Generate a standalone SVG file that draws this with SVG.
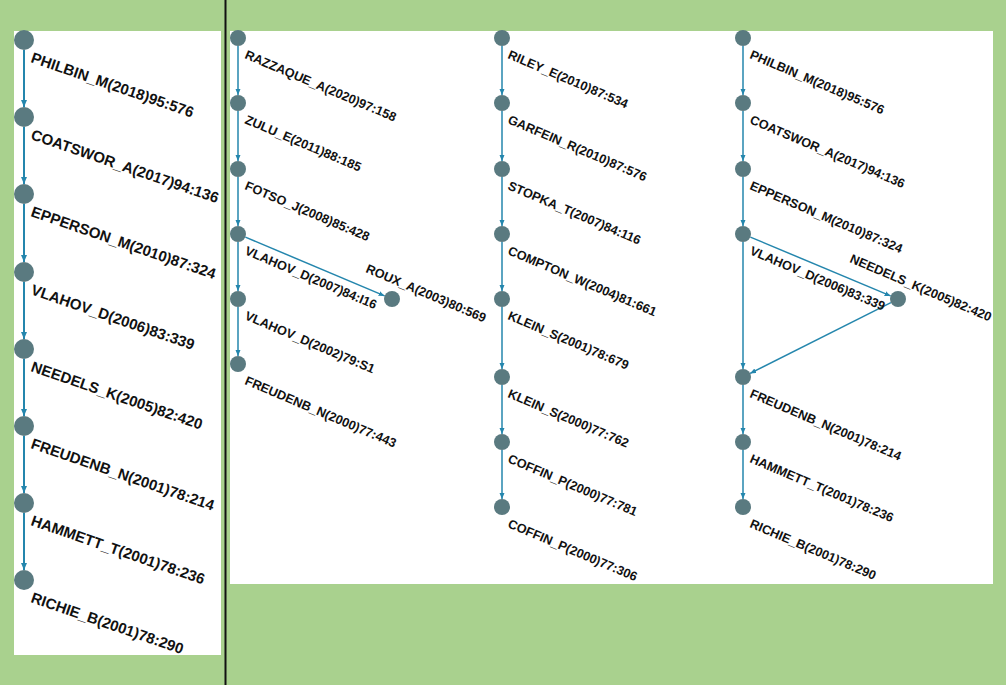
<svg xmlns="http://www.w3.org/2000/svg" width="1006" height="685" viewBox="0 0 1006 685">
<style>
.n{fill:#5a7a80}
.tl{font-family:"Liberation Sans",Arial,sans-serif;font-weight:bold;font-size:15px;fill:#111}
.tr{font-family:"Liberation Sans",Arial,sans-serif;font-weight:bold;font-size:12.7px;fill:#111}
.e1{stroke:#2486ad;stroke-width:2;fill:none;marker-end:url(#a1)}
.e2{stroke:#2486ad;stroke-width:1.5;fill:none;marker-end:url(#a2)}
</style>
<defs>
<marker id="a1" markerUnits="userSpaceOnUse" markerWidth="8" markerHeight="8" refX="7" refY="3" orient="auto"><path d="M0,0 L7,3 L0,6 z" fill="#2486ad"/></marker>
<marker id="a2" markerUnits="userSpaceOnUse" markerWidth="8" markerHeight="8" refX="6" refY="2.5" orient="auto"><path d="M0,0 L6,2.5 L0,5 z" fill="#2486ad"/></marker>
</defs>
<rect x="0" y="0" width="1006" height="685" fill="#a9d18e"/>
<rect x="14" y="31" width="207" height="624" fill="#fff"/>
<rect x="230" y="31" width="763" height="553" fill="#fff"/>
<line x1="225.5" y1="0" x2="225.5" y2="685" stroke="#111" stroke-width="2"/>
<g id="connectors">
<line class="e1" x1="24" y1="50" x2="24" y2="107"/>
<line class="e1" x1="24" y1="127" x2="24" y2="184"/>
<line class="e1" x1="24" y1="204" x2="24" y2="262"/>
<line class="e1" x1="24" y1="282" x2="24" y2="339"/>
<line class="e1" x1="24" y1="359" x2="24" y2="416"/>
<line class="e1" x1="24" y1="436" x2="24" y2="493"/>
<line class="e1" x1="24" y1="513" x2="24" y2="570"/>
<line class="e2" x1="238" y1="46" x2="238" y2="95"/>
<line class="e2" x1="238" y1="111" x2="238" y2="161"/>
<line class="e2" x1="238" y1="177" x2="238" y2="226"/>
<line class="e2" x1="238" y1="242" x2="238" y2="291"/>
<line class="e2" x1="238" y1="307" x2="238" y2="356"/>
<line class="e2" x1="245.4" y1="237.1" x2="384.6" y2="295.9"/>
<line class="e2" x1="502" y1="46" x2="502" y2="95"/>
<line class="e2" x1="502" y1="111" x2="502" y2="161"/>
<line class="e2" x1="502" y1="177" x2="502" y2="226"/>
<line class="e2" x1="502" y1="242" x2="502" y2="291"/>
<line class="e2" x1="502" y1="307" x2="502" y2="369"/>
<line class="e2" x1="502" y1="385" x2="502" y2="434"/>
<line class="e2" x1="502" y1="450" x2="502" y2="499"/>
<line class="e2" x1="743" y1="46" x2="743" y2="95"/>
<line class="e2" x1="743" y1="111" x2="743" y2="161"/>
<line class="e2" x1="743" y1="177" x2="743" y2="226"/>
<line class="e2" x1="750.4" y1="237.1" x2="890.6" y2="295.9"/>
<line class="e2" x1="743" y1="242" x2="743" y2="369"/>
<line class="e2" x1="890.9" y1="302.6" x2="750.1" y2="373.4"/>
<line class="e2" x1="743" y1="385" x2="743" y2="434"/>
<line class="e2" x1="743" y1="450" x2="743" y2="499"/>
</g>
<g id="L1"><circle class="n" cx="24" cy="40" r="10"/><text class="tl" transform="translate(30,62) rotate(19)">PHILBIN_M(2018)95:576</text></g>
<g id="L2"><circle class="n" cx="24" cy="117" r="10"/><text class="tl" transform="translate(30,139) rotate(19)">COATSWOR_A(2017)94:136</text></g>
<g id="L3"><circle class="n" cx="24" cy="194" r="10"/><text class="tl" transform="translate(30,216) rotate(19)">EPPERSON_M(2010)87:324</text></g>
<g id="L4"><circle class="n" cx="24" cy="272" r="10"/><text class="tl" transform="translate(30,294) rotate(19)">VLAHOV_D(2006)83:339</text></g>
<g id="L5"><circle class="n" cx="24" cy="349" r="10"/><text class="tl" transform="translate(30,371) rotate(19)">NEEDELS_K(2005)82:420</text></g>
<g id="L6"><circle class="n" cx="24" cy="426" r="10"/><text class="tl" transform="translate(30,448) rotate(19)">FREUDENB_N(2001)78:214</text></g>
<g id="L7"><circle class="n" cx="24" cy="503" r="10"/><text class="tl" transform="translate(30,525) rotate(19)">HAMMETT_T(2001)78:236</text></g>
<g id="L8"><circle class="n" cx="24" cy="580" r="10"/><text class="tl" transform="translate(30,602) rotate(19)">RICHIE_B(2001)78:290</text></g>
<g id="A1"><circle class="n" cx="238" cy="38" r="8"/><text class="tr" transform="translate(244,58) rotate(23)">RAZZAQUE_A(2020)97:158</text></g>
<g id="A2"><circle class="n" cx="238" cy="103" r="8"/><text class="tr" transform="translate(244,123) rotate(23)">ZULU_E(2011)88:185</text></g>
<g id="A3"><circle class="n" cx="238" cy="169" r="8"/><text class="tr" transform="translate(244,189) rotate(23)">FOTSO_J(2008)85:428</text></g>
<g id="A4"><circle class="n" cx="238" cy="234" r="8"/><text class="tr" transform="translate(244,254) rotate(23)">VLAHOV_D(2007)84:I16</text></g>
<g id="A5"><circle class="n" cx="238" cy="299" r="8"/><text class="tr" transform="translate(244,319) rotate(23)">VLAHOV_D(2002)79:S1</text></g>
<g id="A6"><circle class="n" cx="238" cy="364" r="8"/><text class="tr" transform="translate(244,384) rotate(23)">FREUDENB_N(2000)77:443</text></g>
<g id="A7"><circle class="n" cx="392" cy="299" r="8"/><text class="tr" transform="translate(365,272) rotate(23)">ROUX_A(2003)80:569</text></g>
<g id="B1"><circle class="n" cx="502" cy="38" r="8"/><text class="tr" transform="translate(507,58) rotate(23)">RILEY_E(2010)87:534</text></g>
<g id="B2"><circle class="n" cx="502" cy="103" r="8"/><text class="tr" transform="translate(507,123) rotate(23)">GARFEIN_R(2010)87:576</text></g>
<g id="B3"><circle class="n" cx="502" cy="169" r="8"/><text class="tr" transform="translate(507,189) rotate(23)">STOPKA_T(2007)84:116</text></g>
<g id="B4"><circle class="n" cx="502" cy="234" r="8"/><text class="tr" transform="translate(507,254) rotate(23)">COMPTON_W(2004)81:661</text></g>
<g id="B5"><circle class="n" cx="502" cy="299" r="8"/><text class="tr" transform="translate(507,319) rotate(23)">KLEIN_S(2001)78:679</text></g>
<g id="B6"><circle class="n" cx="502" cy="377" r="8"/><text class="tr" transform="translate(507,397) rotate(23)">KLEIN_S(2000)77:762</text></g>
<g id="B7"><circle class="n" cx="502" cy="442" r="8"/><text class="tr" transform="translate(507,462) rotate(23)">COFFIN_P(2000)77:781</text></g>
<g id="B8"><circle class="n" cx="502" cy="507" r="8"/><text class="tr" transform="translate(507,527) rotate(23)">COFFIN_P(2000)77:306</text></g>
<g id="C1"><circle class="n" cx="743" cy="38" r="8"/><text class="tr" transform="translate(749,58) rotate(23)">PHILBIN_M(2018)95:576</text></g>
<g id="C2"><circle class="n" cx="743" cy="103" r="8"/><text class="tr" transform="translate(749,123) rotate(23)">COATSWOR_A(2017)94:136</text></g>
<g id="C3"><circle class="n" cx="743" cy="169" r="8"/><text class="tr" transform="translate(749,189) rotate(23)">EPPERSON_M(2010)87:324</text></g>
<g id="C4"><circle class="n" cx="743" cy="234" r="8"/><text class="tr" transform="translate(749,254) rotate(23)">VLAHOV_D(2006)83:339</text></g>
<g id="C5"><circle class="n" cx="898" cy="299" r="8"/><text class="tr" transform="translate(849,262) rotate(23)">NEEDELS_K(2005)82:420</text></g>
<g id="C6"><circle class="n" cx="743" cy="377" r="8"/><text class="tr" transform="translate(749,397) rotate(23)">FREUDENB_N(2001)78:214</text></g>
<g id="C7"><circle class="n" cx="743" cy="442" r="8"/><text class="tr" transform="translate(749,462) rotate(23)">HAMMETT_T(2001)78:236</text></g>
<g id="C8"><circle class="n" cx="743" cy="507" r="8"/><text class="tr" transform="translate(749,527) rotate(23)">RICHIE_B(2001)78:290</text></g>
</svg>
